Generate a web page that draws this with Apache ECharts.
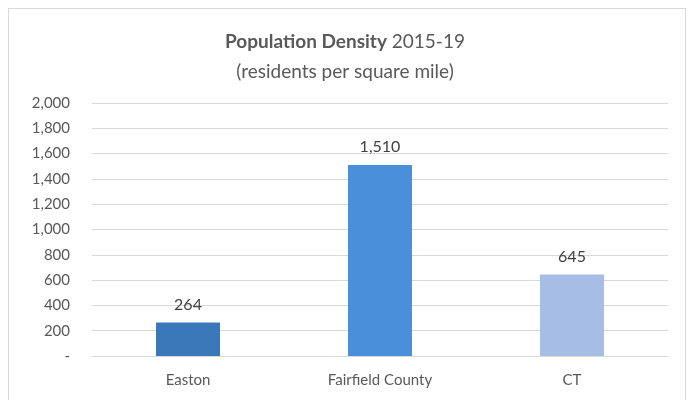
<!DOCTYPE html>
<html>
<head>
<meta charset="utf-8">
<script src="https://cdn.jsdelivr.net/npm/echarts@6/dist/echarts.min.js"></script>
<style>
  html, body { margin: 0; padding: 0; background: #fff; }
  .card {
    position: absolute; left: 8px; top: 8px;
    width: 678px; height: 400px;
    border: 1px solid #d9d9d9; box-sizing: border-box;
  }
  #chart { width: 690px; height: 400px; position: absolute; left: 0; top: 0; }
</style>
</head>
<body>
<div class="card"></div>
<div id="chart"></div>
<script>
// chart data
var categories = ["Easton", "Fairfield County", "CT"];
var densities = [264, 1510, 645];
var barColors = ["#3b78b9", "#4a8fd9", "#a6bee6"];
var yTicks = [0, 200, 400, 600, 800, 1000, 1200, 1400, 1600, 1800, 2000];

var chart = echarts.init(document.getElementById("chart"));
var font = "Lato, 'Open Sans', sans-serif";

chart.setOption({
  animation: false,
  title: {
    text: "{b|Population Density} 2015-19\n(residents per square mile)",
    left: "center",
    top: 22,
    textStyle: {
      color: "#595959",
      fontFamily: font,
      fontSize: 19,
      fontWeight: "normal",
      lineHeight: 30,
      rich: {
        b: { fontWeight: "bold", fontSize: 19, color: "#595959", fontFamily: font }
      }
    }
  },
  grid: { left: 92, right: 22, top: 103, bottom: 44 },
  xAxis: {
    type: "category",
    data: categories,
    axisLine: { lineStyle: { color: "#d9d9d9" } },
    axisTick: { show: false },
    axisLabel: { color: "#595959", fontFamily: font, fontSize: 15, margin: 17 }
  },
  yAxis: {
    type: "value",
    min: yTicks[0],
    max: yTicks[yTicks.length - 1],
    interval: 200,
    axisLine: { show: false },
    axisTick: { show: false },
    splitLine: { lineStyle: { color: "#d9d9d9" } },
    axisLabel: {
      color: "#595959", fontFamily: font, fontSize: 15, margin: 22,
      formatter: function (v) { return v === 0 ? "-" : v.toLocaleString("en-US"); }
    }
  },
  series: [{
    type: "bar",
    barWidth: 64,
    data: densities.map(function (v, i) {
      return { value: v, itemStyle: { color: barColors[i] } };
    }),
    label: {
      show: true,
      position: "top",
      distance: 10,
      color: "#404040",
      fontFamily: font,
      fontSize: 16,
      formatter: function (p) { return p.value.toLocaleString("en-US"); }
    }
  }]
});
</script>
</body>
</html>
